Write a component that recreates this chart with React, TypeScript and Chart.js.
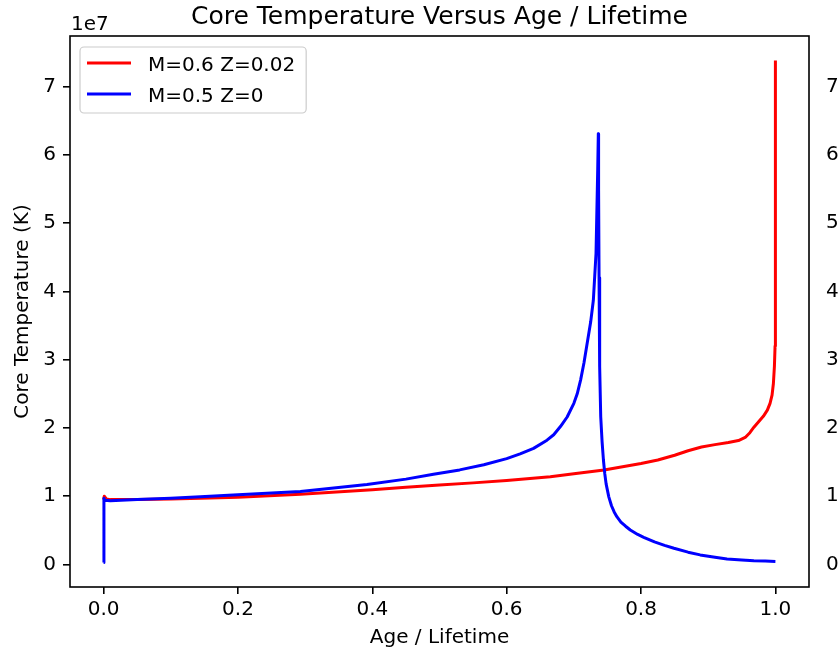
import React, { useEffect, useRef } from "react";
import { Chart, registerables } from "chart.js";

Chart.register(...registerables);

const TITLE = "Core Temperature Versus Age / Lifetime";
const X_LABEL = "Age / Lifetime";
const Y_LABEL = "Core Temperature (K)";
const Y_OFFSET_LABEL = "1e7";
const SERIES_LABELS = ["M=0.6 Z=0.02", "M=0.5 Z=0"];
const SERIES_COLORS = ["#ff0000", "#0000ff"];

const X_TICKS = [0, 0.2, 0.4, 0.6, 0.8, 1.0];
const X_TICK_LABELS = ["0.0", "0.2", "0.4", "0.6", "0.8", "1.0"];
const Y_TICKS = [0, 1e7, 2e7, 3e7, 4e7, 5e7, 6e7, 7e7];
const Y_TICK_LABELS = ["0", "1", "2", "3", "4", "5", "6", "7"];
const X_MIN = -0.05;
const X_MAX = 1.05;
const Y_MIN = -0.33e7;
const Y_MAX = 7.74e7;

// M=0.6 Z=0.02
const redAge = [
  0, 0.001, 0.004, 0.01, 0.05, 0.1, 0.144, 0.2, 0.293, 0.4, 0.45, 0.5, 0.55, 0.6,
  0.665, 0.7, 0.745, 0.8, 0.825, 0.85, 0.87, 0.89, 0.91, 0.93, 0.945, 0.955, 0.962,
  0.968, 0.975, 0.982, 0.988, 0.992, 0.995, 0.997, 0.9985, 0.9995, 1.0, 1.0,
];
const redTemp = [
  0.95e7, 1.0e7, 0.96e7, 0.95e7, 0.953e7, 0.96e7, 0.969e7, 0.985e7, 1.028e7, 1.095e7,
  1.13e7, 1.165e7, 1.195e7, 1.23e7, 1.285e7, 1.33e7, 1.384e7, 1.48e7, 1.53e7, 1.6e7,
  1.665e7, 1.72e7, 1.755e7, 1.785e7, 1.815e7, 1.86e7, 1.93e7, 2.01e7, 2.09e7, 2.17e7,
  2.26e7, 2.36e7, 2.48e7, 2.65e7, 2.9e7, 3.2e7, 3.3e7, 7.38e7,
];

// M=0.5 Z=0
const blueAge = [
  0, 0.0005, 0.002, 0.01, 0.05, 0.1, 0.144, 0.2, 0.293, 0.392, 0.45, 0.491, 0.53,
  0.566, 0.6, 0.62, 0.64, 0.66, 0.67, 0.68, 0.69, 0.7, 0.705, 0.71, 0.715, 0.72,
  0.725, 0.729, 0.733, 0.7355, 0.7364, 0.7368, 0.7375, 0.7384, 0.74, 0.742, 0.744,
  0.746, 0.748, 0.752, 0.756, 0.76, 0.764, 0.77, 0.777, 0.784, 0.795, 0.804, 0.82,
  0.835, 0.849, 0.87, 0.888, 0.91, 0.928, 0.95, 0.968, 0.985, 1.0,
];
const blueTemp = [
  0.03e7, 0.97e7, 0.94e7, 0.933e7, 0.95e7, 0.97e7, 0.993e7, 1.02e7, 1.07e7, 1.17e7,
  1.25e7, 1.32e7, 1.385e7, 1.46e7, 1.55e7, 1.62e7, 1.7e7, 1.82e7, 1.9e7, 2.02e7,
  2.16e7, 2.36e7, 2.5e7, 2.7e7, 2.95e7, 3.25e7, 3.55e7, 3.87e7, 4.56e7, 5.78e7,
  6.31e7, 5.5e7, 4.2e7, 2.9e7, 2.16e7, 1.8e7, 1.53e7, 1.33e7, 1.18e7, 0.99e7, 0.86e7,
  0.77e7, 0.7e7, 0.62e7, 0.56e7, 0.505e7, 0.44e7, 0.398e7, 0.33e7, 0.28e7, 0.237e7,
  0.18e7, 0.14e7, 0.105e7, 0.08e7, 0.065e7, 0.055e7, 0.05e7, 0.045e7,
];

const FONT = '"DejaVu Sans", "Liberation Sans", sans-serif';

const toPoints = (xs: number[], ys: number[]) => xs.map((x, i) => ({ x, y: ys[i] }));

const decorPlugin = {
  id: "decor",
  afterDraw(chart: any) {
    const { ctx, chartArea: a } = chart;
    ctx.save();
    // spines
    ctx.strokeStyle = "#000";
    ctx.lineWidth = 1.6;
    ctx.strokeRect(a.left, a.top, a.right - a.left, a.bottom - a.top);

    // title
    ctx.fillStyle = "#000";
    ctx.font = `25px ${FONT}`;
    ctx.textAlign = "center";
    ctx.textBaseline = "alphabetic";
    ctx.fillText(TITLE, (a.left + a.right) / 2, 24);

    // offset text
    ctx.font = `20px ${FONT}`;
    ctx.textAlign = "left";
    ctx.fillText(Y_OFFSET_LABEL, a.left + 1, 30);

    // legend
    const bx = a.left + 10;
    const by = a.top + 11;
    const textX = bx + 68;
    let maxW = 0;
    SERIES_LABELS.forEach((t) => {
      maxW = Math.max(maxW, ctx.measureText(t).width);
    });
    const bw = textX - bx + maxW + 11;
    const bh = 66;
    const r = 4;
    ctx.beginPath();
    ctx.moveTo(bx + r, by);
    ctx.lineTo(bx + bw - r, by);
    ctx.arcTo(bx + bw, by, bx + bw, by + r, r);
    ctx.lineTo(bx + bw, by + bh - r);
    ctx.arcTo(bx + bw, by + bh, bx + bw - r, by + bh, r);
    ctx.lineTo(bx + r, by + bh);
    ctx.arcTo(bx, by + bh, bx, by + bh - r, r);
    ctx.lineTo(bx, by + r);
    ctx.arcTo(bx, by, bx + r, by, r);
    ctx.closePath();
    ctx.fillStyle = "rgba(255,255,255,0.8)";
    ctx.fill();
    ctx.strokeStyle = "#cccccc";
    ctx.lineWidth = 1.2;
    ctx.stroke();

    const rowY = [by + 16, by + 47];
    SERIES_LABELS.forEach((t, i) => {
      ctx.strokeStyle = SERIES_COLORS[i];
      ctx.lineWidth = 3;
      ctx.beginPath();
      ctx.moveTo(bx + 7, rowY[i]);
      ctx.lineTo(bx + 51, rowY[i]);
      ctx.stroke();
      ctx.fillStyle = "#000";
      ctx.textBaseline = "alphabetic";
      ctx.fillText(t, textX, rowY[i] + 8);
    });
    ctx.restore();
  },
};

export default function App() {
  const ref = useRef<HTMLCanvasElement | null>(null);

  useEffect(() => {
    if (!ref.current) return;
    const tickSet = (vals: number[]) => (scale: any) => {
      scale.ticks = vals.map((v) => ({ value: v }));
    };
    const chart = new Chart(ref.current, {
      type: "line",
      data: {
        datasets: [
          {
            label: SERIES_LABELS[0],
            data: toPoints(redAge, redTemp),
            borderColor: SERIES_COLORS[0],
            backgroundColor: SERIES_COLORS[0],
            borderWidth: 3,
            pointRadius: 0,
            tension: 0,
            borderJoinStyle: "round",
            order: 1,
          },
          {
            label: SERIES_LABELS[1],
            data: toPoints(blueAge, blueTemp),
            borderColor: SERIES_COLORS[1],
            backgroundColor: SERIES_COLORS[1],
            borderWidth: 3,
            pointRadius: 0,
            tension: 0,
            borderJoinStyle: "round",
            order: 0,
          },
        ],
      },
      options: {
        responsive: false,
        animation: false,
        layout: { padding: { top: 36, left: 0, right: 0, bottom: 0 } },
        plugins: { legend: { display: false }, tooltip: { enabled: false }, title: { display: false } },
        scales: {
          x: {
            type: "linear",
            min: X_MIN,
            max: X_MAX,
            afterBuildTicks: tickSet(X_TICKS),
            afterFit: (s: any) => {
              s.height = 68;
            },
            grid: { drawOnChartArea: false, drawTicks: true, tickLength: 7, color: "#000", lineWidth: 1.6 },
            border: { display: false },
            ticks: {
              color: "#000",
              font: { family: FONT, size: 20 },
              padding: 4,
              maxRotation: 0,
              autoSkip: false,
              callback: (v: any) => {
                const i = X_TICKS.findIndex((t) => Math.abs(t - v) < 1e-9);
                return i >= 0 ? X_TICK_LABELS[i] : "";
              },
            },
            title: {
              display: true,
              text: X_LABEL,
              color: "#000",
              font: { family: FONT, size: 20 },
              padding: { top: 0, bottom: 5 },
            },
          },
          y: {
            type: "linear",
            position: "left",
            min: Y_MIN,
            max: Y_MAX,
            afterBuildTicks: tickSet(Y_TICKS),
            afterFit: (s: any) => {
              s.width = 70;
            },
            grid: { drawOnChartArea: false, drawTicks: true, tickLength: 7, color: "#000", lineWidth: 1.6 },
            border: { display: false },
            ticks: {
              color: "#000",
              font: { family: FONT, size: 20 },
              padding: 7,
              autoSkip: false,
              callback: (v: any) => {
                const i = Y_TICKS.findIndex((t) => Math.abs(t - v) < 1);
                return i >= 0 ? Y_TICK_LABELS[i] : "";
              },
            },
            title: {
              display: true,
              text: Y_LABEL,
              color: "#000",
              font: { family: FONT, size: 20 },
              padding: { top: 11, bottom: 0 },
            },
          },
          y2: {
            type: "linear",
            position: "right",
            min: Y_MIN,
            max: Y_MAX,
            afterBuildTicks: tickSet(Y_TICKS),
            afterFit: (s: any) => {
              s.width = 30;
            },
            grid: { display: false, drawTicks: false },
            border: { display: false },
            ticks: {
              color: "#000",
              font: { family: FONT, size: 20 },
              padding: 17,
              autoSkip: false,
              callback: (v: any) => {
                const i = Y_TICKS.findIndex((t) => Math.abs(t - v) < 1);
                return i >= 0 ? Y_TICK_LABELS[i] : "";
              },
            },
          },
        },
      },
      plugins: [decorPlugin],
    } as any);
    return () => chart.destroy();
  }, []);

  return (
    <div style={{ position: "absolute", left: 0, top: 0, width: 839, height: 655, background: "#fff" }}>
      <canvas ref={ref} width={839} height={655} style={{ width: 839, height: 655, display: "block" }} />
    </div>
  );
}
